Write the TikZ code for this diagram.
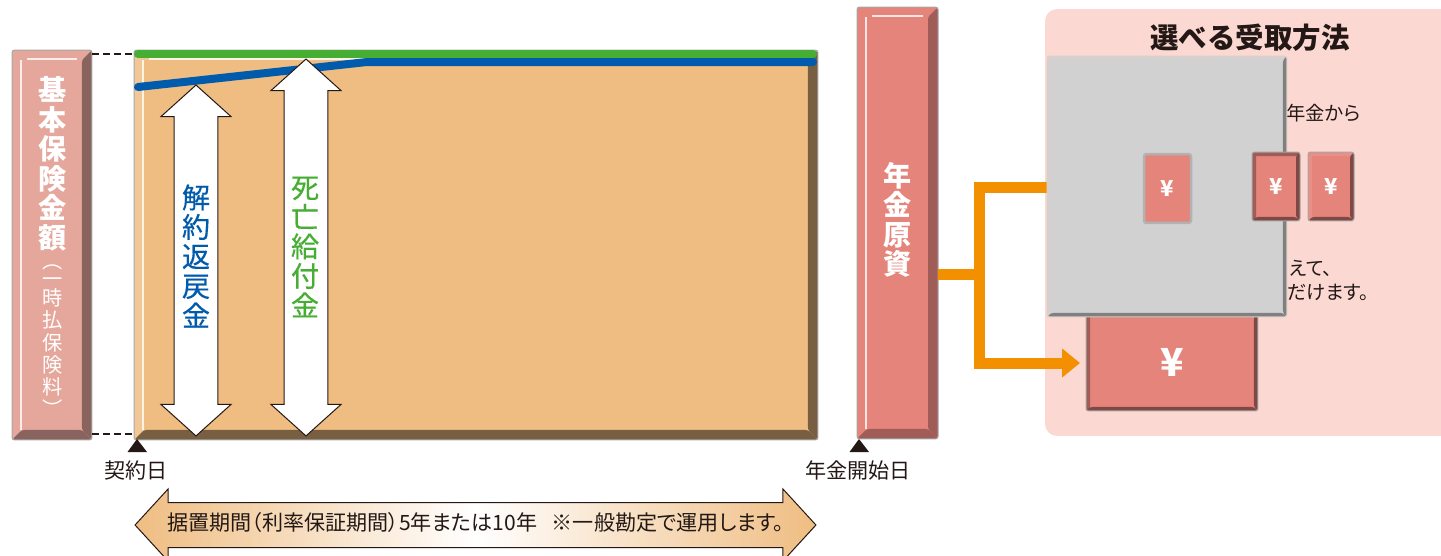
\documentclass[tikz,border=0pt]{standalone}
\usepackage{fontspec}
\setmainfont{Noto Sans CJK JP}
\newfontfamily\paltfont{Noto Sans CJK JP}[RawFeature=+palt]
\newfontfamily\medfont{Noto Sans CJK JP}[FakeBold=0.4]
\usetikzlibrary{arrows.meta,shapes.arrows}
\definecolor{salmon}{HTML}{E5847B}
\definecolor{rosy}{HTML}{E5A79C}
\definecolor{sand}{HTML}{EFBD82}
\definecolor{panelpink}{HTML}{FBD9D2}
\definecolor{feedorange}{HTML}{F39000}
\definecolor{inkdark}{HTML}{231815}
\definecolor{refundblue}{HTML}{005BAC}
\definecolor{deathgreen}{HTML}{46AF33}
\definecolor{coveredge}{HTML}{D9CFCB}
% face, depth, side strip, highlight, dark edge
\tikzset{bevelbox/.style n args={5}{rectangle, draw=black!35, line width=0.02cm, rounded corners=0.05cm, fill=#1, inner sep=0pt, text=white, path picture={
    \fill [#3] (path picture bounding box.north west) rectangle ([xshift=#2]path picture bounding box.south west);
    \fill [#3] (path picture bounding box.north west) rectangle ([yshift=-#2]path picture bounding box.north east);
    \fill [#5] (path picture bounding box.north east) -- ([xshift=-#2,yshift=-#2]path picture bounding box.north east) -- ([xshift=-#2,yshift=#2]path picture bounding box.south east) -- (path picture bounding box.south east) -- cycle;
    \fill [#5] (path picture bounding box.south west) -- ([xshift=#2,yshift=#2]path picture bounding box.south west) -- ([xshift=-#2,yshift=#2]path picture bounding box.south east) -- (path picture bounding box.south east) -- cycle;
    \draw [#4, line width=0.05cm] ([xshift=#2-0.02cm,yshift=-#2]path picture bounding box.north west) -- ([xshift=#2-0.02cm,yshift=#2]path picture bounding box.south west);
    \draw [#4, line width=0.05cm] ([xshift=#2+0.1cm,yshift=-#2+0.02cm]path picture bounding box.north west) -- ([xshift=-#2-0.1cm,yshift=-#2+0.02cm]path picture bounding box.north east);
}}}
\tikzstyle{tallarrow} = [double arrow, shape border rotate=90, draw=inkdark, fill=white, line width=0.02cm, inner sep=0.43cm, double arrow head extend=0.26cm, double arrow tip angle=96]
\tikzstyle{stacklabel} = [align=center, inner sep=0pt, font=\medfont\fontsize{16}{16.8}\selectfont]
\tikzstyle{boldstack} = [align=center, inner sep=0pt, text=white, font=\fontsize{16}{16.8}\selectfont\bfseries]
\tikzstyle{smallstack} = [align=center, inner sep=0pt, font=\fontsize{11.5}{12.6}\selectfont, text=white]
\tikzstyle{yenlabel} = [font=\fontsize{12.5}{14}\selectfont\bfseries]
\tikzstyle{bodytext} = [inner sep=0pt, text=inkdark, font=\fontsize{12}{14}\selectfont]
\tikzstyle{paneltext} = [inner sep=0pt, anchor=west, text=inkdark, font=\paltfont\fontsize{11}{12}\selectfont]
\tikzstyle{dashline} = [inkdark, line width=0.04cm, dash pattern=on 0.14cm off 0.08cm]
\tikzstyle{feed} = [feedorange, line width=0.22cm]

\begin{document}
\begin{tikzpicture}[x=0.02cm,y=-0.02cm]
    \useasboundingbox (0,0) rectangle (1441,555);
    % left column and plan body
    \node (basic) [bevelbox={rosy}{0.2cm}{rosy}{white!80!rosy}{rosy!60!black}, minimum width=1.6cm, minimum height=7.8cm] at (52,245) {};
    \node (plan) [bevelbox={sand}{0.2cm}{sand!85!white}{white!80!sand}{sand!50!black}, minimum width=13.68cm, minimum height=7.8cm] at (476,245) {};
    \node (basicname) [boldstack] at (53,164) {基\\本\\保\\険\\金\\額};
    \node (basicnote) [smallstack] at (53,339) {\smash{\raisebox{-0.14cm}{︵}}\\\raisebox{-0.06cm}{一}\\時\\払\\保\\険\\料\\︶};
    % dashed guides
    \coordinate (basictop) at (92,54);
    \coordinate (plantop) at (134,54);
    \coordinate (basicbot) at (92,434);
    \coordinate (planbot) at (134,434);
    \draw [dashline] (basictop) -- (plantop);
    \draw [dashline] (basicbot) -- (planbot);
    % value lines
    \coordinate (bluestart) at (138,87);
    \coordinate (bluebend) at (367,62);
    \coordinate (blueend) at (813,62);
    \coordinate (greenstart) at (138,54);
    \coordinate (greenend) at (813,54);
    \draw [refundblue, line width=0.16cm, line cap=round, line join=round] (bluestart) -- (bluebend) -- (blueend);
    \draw [deathgreen, line width=0.16cm, line cap=round] (greenstart) -- (greenend);
    % the two double arrows
    \node (refund) [tallarrow, minimum height=7.02cm] at (196,260.500) {};
    \node (death) [tallarrow, minimum height=7.54cm] at (306,247.500) {};
    \node (refundname) [stacklabel, text=refundblue] at (196,256) {解\\約\\返\\戻\\金};
    \node (deathname) [stacklabel, text=deathgreen] at (305,247) {死\\亡\\給\\付\\金};
    % start and end marks
    \fill [inkdark] (137,439) -- (147,452) -- (127.500,452) -- cycle;
    \fill [inkdark] (859,439) -- (869,452) -- (849.500,452) -- cycle;
    \node (startday) [bodytext] at (136,470) {契約日};
    \node (payday) [bodytext] at (858,470) {年金開始日};
    \node (period) [double arrow, draw=inkdark, line width=0.02cm, left color=sand, right color=sand, middle color=white, inner xsep=0pt, inner ysep=0.24cm, text height=0.3cm, text depth=0.1cm, minimum height=13.62cm, double arrow head extend=0.27cm, double arrow tip angle=95, text=inkdark, font=\paltfont\fontsize{12}{14}\selectfont] at (475.500,525) {据置期間（利率保証期間）5年または10年\hspace{0.7em}※一般勘定で運用します。};
    % annuity capital
    \node (capital) [bevelbox={salmon}{0.2cm}{salmon}{white!80!salmon}{salmon!70!black}, minimum width=1.62cm, minimum height=8.64cm] at (897.500,223) {};
    \node (capitalname) [boldstack] at (898,220) {年\\金\\原\\資};
    % right panel
    \node (panel) [rectangle, fill=panelpink, rounded corners=0.24cm, minimum width=8.4cm, minimum height=8.54cm, inner sep=0pt] at (1255,222.500) {};
    \node (title) [inner sep=0pt, text=inkdark, font=\fontsize{16.2}{18}\selectfont\bfseries] at (1250,38) {選べる受取方法};
    \node (lineone) [paneltext] at (1286,113) {年金から};
    \node (linetwo) [paneltext] at (1289,268) {えて、};
    \node (linethree) [paneltext] at (1287,292) {だけます。};
    \node (yenthree) [bevelbox={salmon}{0.08cm}{salmon!90!white}{salmon!90!white}{salmon!55!black}, minimum width=0.92cm, minimum height=1.38cm, yenlabel] at (1331,186.500) {¥};
    \node (lump) [bevelbox={salmon}{0.08cm}{salmon!70!black}{salmon!70!black}{salmon!55!black}, minimum width=3.44cm, minimum height=1.96cm, font=\fontsize{22}{24}\selectfont\bfseries] at (1172,362) {¥};
    % orange feed lines
    \coordinate (junction) at (979,274.500);
    \coordinate (capitalout) at (938,274.500);
    \coordinate (coverin) at (1052,187);
    \coordinate (lumpin) at (1080,363);
    \draw [feed] (capitalout) -- (junction);
    \draw [feed] (junction) |- (coverin);
    \draw [feed, -{Triangle[length=0.36cm,width=0.56cm]}] (junction) |- (lumpin);
    % grey cover
    \node (cover) [bevelbox={black!18}{0.08cm}{coveredge}{black!18}{black!50}, draw=coveredge, minimum width=4.8cm, minimum height=5.22cm] at (1167,186.500) {};
    \node (yenone) [rectangle, draw=black!30, line width=0.05cm, rounded corners=0.05cm, fill=salmon, text=white, inner sep=0pt, minimum width=0.94cm, minimum height=1.38cm, yenlabel] at (1167.500,188.500) {¥};
    \node (yentwo) [bevelbox={salmon}{0.08cm}{salmon!70!black}{salmon!70!black}{salmon!55!black}, minimum width=0.96cm, minimum height=1.38cm, yenlabel] at (1276,186.500) {¥};
\end{tikzpicture}
\end{document}
